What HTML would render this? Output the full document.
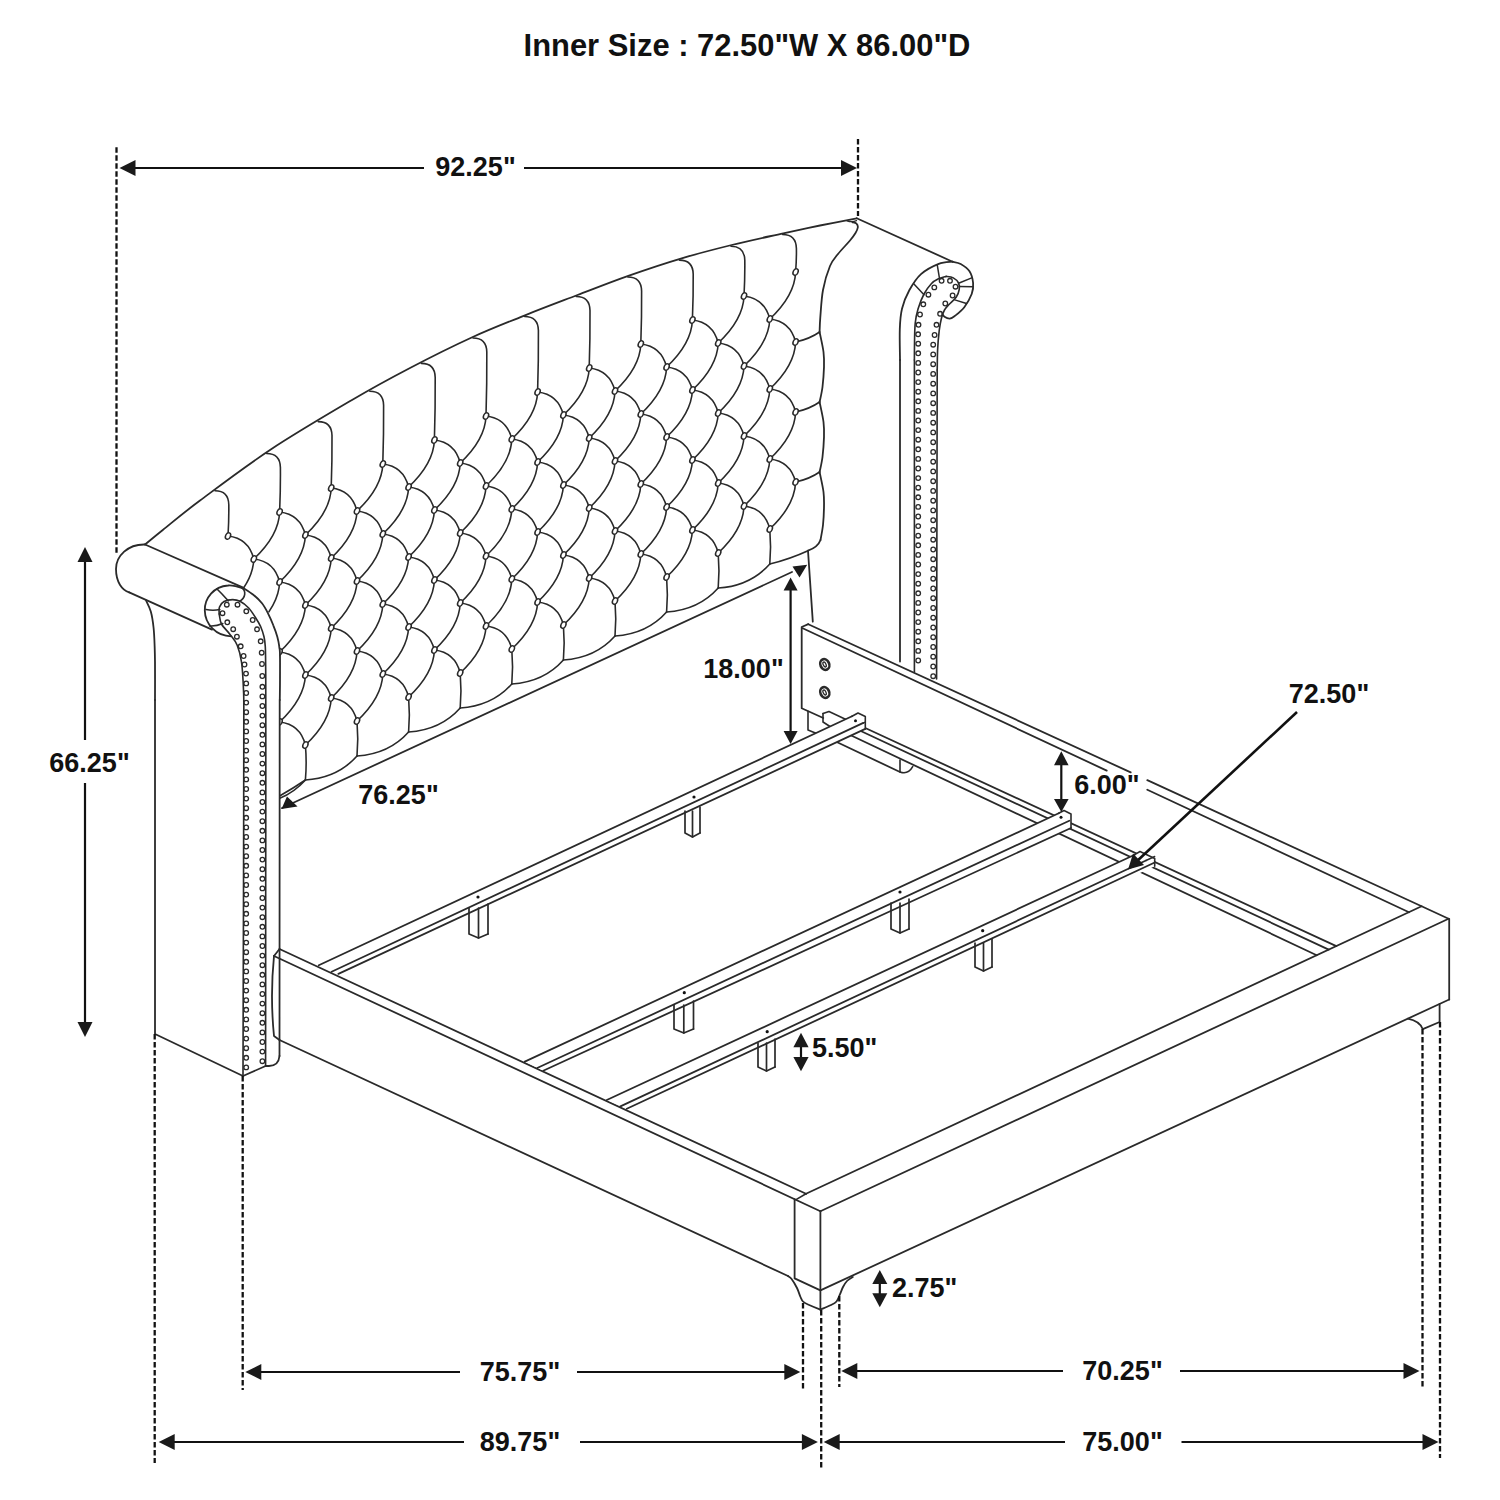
<!DOCTYPE html>
<html><head><meta charset="utf-8"><style>
html,body{margin:0;padding:0;background:#fff;width:1500px;height:1500px;overflow:hidden}
svg{display:block}
text{font-family:"Liberation Sans",sans-serif;font-weight:bold}
</style></head><body>
<svg width="1500" height="1500" viewBox="0 0 1500 1500">
<defs><clipPath id="tc"><path d="M145.0,544.5 C148.0,542.1 153.6,537.3 162.8,530.0 C172.0,522.7 182.1,513.8 200.0,500.5 C217.9,487.2 244.7,466.8 270.0,450.0 C295.3,433.2 328.7,413.7 352.0,400.0 C375.3,386.3 390.1,378.4 410.0,368.0 C429.9,357.6 452.5,346.3 471.7,337.5 C490.9,328.7 507.4,322.4 525.0,315.3 C542.6,308.2 560.3,301.6 577.5,295.0 C594.7,288.4 610.9,281.9 628.3,275.8 C645.7,269.7 664.5,263.4 681.7,258.3 C698.9,253.2 714.8,249.2 731.7,245.0 C748.6,240.8 768.6,236.6 783.3,233.3 C798.0,230.1 807.8,228.0 820.0,225.5 C832.2,223.0 850.6,219.5 856.7,218.3 L857.8,227.5 L855.5,233 L850,240.5 L838,254 L830,266 L823,290 L820.3,317.3 L821,400 L821,470 L822,540 L822,560 L280,812 L280,662 L278.7,646 L276.5,633 L272,620 L267,609 L260,600.8 L252,593.5 L243.2,588 Z"/></clipPath></defs>
<rect width="1500" height="1500" fill="#fff"/>
<g fill="none" stroke="#2a2a2a" stroke-linecap="round" stroke-linejoin="round">
<g clip-path="url(#tc)">
<path d="M228.0,536.0 Q248.6,538.3 253.8,559.0" stroke-width="1.6" />
<path d="M228.0,606.0 Q248.6,608.3 253.8,629.0" stroke-width="1.6" />
<path d="M228.0,606.0 Q253.0,582.5 253.8,559.0" stroke-width="1.6" />
<path d="M228.0,676.0 Q248.6,678.3 253.8,699.0" stroke-width="1.6" />
<path d="M228.0,676.0 Q253.0,652.5 253.8,629.0" stroke-width="1.6" />
<path d="M228.0,746.0 Q248.6,748.3 253.8,769.0" stroke-width="1.6" />
<path d="M228.0,746.0 Q253.0,722.5 253.8,699.0" stroke-width="1.6" />
<path d="M253.8,559.0 Q274.4,561.3 279.6,582.0" stroke-width="1.6" />
<path d="M253.8,559.0 Q278.8,535.5 279.6,512.0" stroke-width="1.6" />
<path d="M253.8,629.0 Q274.4,631.3 279.6,652.0" stroke-width="1.6" />
<path d="M253.8,629.0 Q278.8,605.5 279.6,582.0" stroke-width="1.6" />
<path d="M253.8,699.0 Q274.4,701.3 279.6,722.0" stroke-width="1.6" />
<path d="M253.8,699.0 Q278.8,675.5 279.6,652.0" stroke-width="1.6" />
<path d="M253.8,769.0 Q278.8,745.5 279.6,722.0" stroke-width="1.6" />
<path d="M279.6,512.0 Q300.2,514.3 305.4,535.0" stroke-width="1.6" />
<path d="M279.6,582.0 Q300.2,584.3 305.4,605.0" stroke-width="1.6" />
<path d="M279.6,582.0 Q304.6,558.5 305.4,535.0" stroke-width="1.6" />
<path d="M279.6,652.0 Q300.2,654.3 305.4,675.0" stroke-width="1.6" />
<path d="M279.6,652.0 Q304.6,628.5 305.4,605.0" stroke-width="1.6" />
<path d="M279.6,722.0 Q300.2,724.3 305.4,745.0" stroke-width="1.6" />
<path d="M279.6,722.0 Q304.6,698.5 305.4,675.0" stroke-width="1.6" />
<path d="M305.4,535.0 Q326.0,537.3 331.2,558.0" stroke-width="1.6" />
<path d="M305.4,535.0 Q330.4,511.5 331.2,488.0" stroke-width="1.6" />
<path d="M305.4,605.0 Q326.0,607.3 331.2,628.0" stroke-width="1.6" />
<path d="M305.4,605.0 Q330.4,581.5 331.2,558.0" stroke-width="1.6" />
<path d="M305.4,675.0 Q326.0,677.3 331.2,698.0" stroke-width="1.6" />
<path d="M305.4,675.0 Q330.4,651.5 331.2,628.0" stroke-width="1.6" />
<path d="M305.4,745.0 Q330.4,721.5 331.2,698.0" stroke-width="1.6" />
<path d="M331.2,488.0 Q351.8,490.3 357.0,511.0" stroke-width="1.6" />
<path d="M331.2,558.0 Q351.8,560.3 357.0,581.0" stroke-width="1.6" />
<path d="M331.2,558.0 Q356.2,534.5 357.0,511.0" stroke-width="1.6" />
<path d="M331.2,628.0 Q351.8,630.3 357.0,651.0" stroke-width="1.6" />
<path d="M331.2,628.0 Q356.2,604.5 357.0,581.0" stroke-width="1.6" />
<path d="M331.2,698.0 Q351.8,700.3 357.0,721.0" stroke-width="1.6" />
<path d="M331.2,698.0 Q356.2,674.5 357.0,651.0" stroke-width="1.6" />
<path d="M357.0,511.0 Q377.6,513.3 382.8,534.0" stroke-width="1.6" />
<path d="M357.0,511.0 Q382.0,487.5 382.8,464.0" stroke-width="1.6" />
<path d="M357.0,581.0 Q377.6,583.3 382.8,604.0" stroke-width="1.6" />
<path d="M357.0,581.0 Q382.0,557.5 382.8,534.0" stroke-width="1.6" />
<path d="M357.0,651.0 Q377.6,653.3 382.8,674.0" stroke-width="1.6" />
<path d="M357.0,651.0 Q382.0,627.5 382.8,604.0" stroke-width="1.6" />
<path d="M357.0,721.0 Q382.0,697.5 382.8,674.0" stroke-width="1.6" />
<path d="M382.8,464.0 Q403.4,466.3 408.6,487.0" stroke-width="1.6" />
<path d="M382.8,534.0 Q403.4,536.3 408.6,557.0" stroke-width="1.6" />
<path d="M382.8,534.0 Q407.8,510.5 408.6,487.0" stroke-width="1.6" />
<path d="M382.8,604.0 Q403.4,606.3 408.6,627.0" stroke-width="1.6" />
<path d="M382.8,604.0 Q407.8,580.5 408.6,557.0" stroke-width="1.6" />
<path d="M382.8,674.0 Q403.4,676.3 408.6,697.0" stroke-width="1.6" />
<path d="M382.8,674.0 Q407.8,650.5 408.6,627.0" stroke-width="1.6" />
<path d="M408.6,487.0 Q429.2,489.3 434.4,510.0" stroke-width="1.6" />
<path d="M408.6,487.0 Q433.6,463.5 434.4,440.0" stroke-width="1.6" />
<path d="M408.6,557.0 Q429.2,559.3 434.4,580.0" stroke-width="1.6" />
<path d="M408.6,557.0 Q433.6,533.5 434.4,510.0" stroke-width="1.6" />
<path d="M408.6,627.0 Q429.2,629.3 434.4,650.0" stroke-width="1.6" />
<path d="M408.6,627.0 Q433.6,603.5 434.4,580.0" stroke-width="1.6" />
<path d="M408.6,697.0 Q433.6,673.5 434.4,650.0" stroke-width="1.6" />
<path d="M434.4,440.0 Q455.0,442.3 460.2,463.0" stroke-width="1.6" />
<path d="M434.4,510.0 Q455.0,512.3 460.2,533.0" stroke-width="1.6" />
<path d="M434.4,510.0 Q459.4,486.5 460.2,463.0" stroke-width="1.6" />
<path d="M434.4,580.0 Q455.0,582.3 460.2,603.0" stroke-width="1.6" />
<path d="M434.4,580.0 Q459.4,556.5 460.2,533.0" stroke-width="1.6" />
<path d="M434.4,650.0 Q455.0,652.3 460.2,673.0" stroke-width="1.6" />
<path d="M434.4,650.0 Q459.4,626.5 460.2,603.0" stroke-width="1.6" />
<path d="M460.2,463.0 Q480.8,465.3 486.0,486.0" stroke-width="1.6" />
<path d="M460.2,463.0 Q485.2,439.5 486.0,416.0" stroke-width="1.6" />
<path d="M460.2,533.0 Q480.8,535.3 486.0,556.0" stroke-width="1.6" />
<path d="M460.2,533.0 Q485.2,509.5 486.0,486.0" stroke-width="1.6" />
<path d="M460.2,603.0 Q480.8,605.3 486.0,626.0" stroke-width="1.6" />
<path d="M460.2,603.0 Q485.2,579.5 486.0,556.0" stroke-width="1.6" />
<path d="M460.2,673.0 Q485.2,649.5 486.0,626.0" stroke-width="1.6" />
<path d="M486.0,416.0 Q506.6,418.3 511.8,439.0" stroke-width="1.6" />
<path d="M486.0,486.0 Q506.6,488.3 511.8,509.0" stroke-width="1.6" />
<path d="M486.0,486.0 Q511.0,462.5 511.8,439.0" stroke-width="1.6" />
<path d="M486.0,556.0 Q506.6,558.3 511.8,579.0" stroke-width="1.6" />
<path d="M486.0,556.0 Q511.0,532.5 511.8,509.0" stroke-width="1.6" />
<path d="M486.0,626.0 Q506.6,628.3 511.8,649.0" stroke-width="1.6" />
<path d="M486.0,626.0 Q511.0,602.5 511.8,579.0" stroke-width="1.6" />
<path d="M511.8,439.0 Q532.4,441.3 537.6,462.0" stroke-width="1.6" />
<path d="M511.8,439.0 Q536.8,415.5 537.6,392.0" stroke-width="1.6" />
<path d="M511.8,509.0 Q532.4,511.3 537.6,532.0" stroke-width="1.6" />
<path d="M511.8,509.0 Q536.8,485.5 537.6,462.0" stroke-width="1.6" />
<path d="M511.8,579.0 Q532.4,581.3 537.6,602.0" stroke-width="1.6" />
<path d="M511.8,579.0 Q536.8,555.5 537.6,532.0" stroke-width="1.6" />
<path d="M511.8,649.0 Q536.8,625.5 537.6,602.0" stroke-width="1.6" />
<path d="M537.6,392.0 Q558.2,394.3 563.4,415.0" stroke-width="1.6" />
<path d="M537.6,462.0 Q558.2,464.3 563.4,485.0" stroke-width="1.6" />
<path d="M537.6,462.0 Q562.6,438.5 563.4,415.0" stroke-width="1.6" />
<path d="M537.6,532.0 Q558.2,534.3 563.4,555.0" stroke-width="1.6" />
<path d="M537.6,532.0 Q562.6,508.5 563.4,485.0" stroke-width="1.6" />
<path d="M537.6,602.0 Q558.2,604.3 563.4,625.0" stroke-width="1.6" />
<path d="M537.6,602.0 Q562.6,578.5 563.4,555.0" stroke-width="1.6" />
<path d="M563.4,415.0 Q584.0,417.3 589.2,438.0" stroke-width="1.6" />
<path d="M563.4,415.0 Q588.4,391.5 589.2,368.0" stroke-width="1.6" />
<path d="M563.4,485.0 Q584.0,487.3 589.2,508.0" stroke-width="1.6" />
<path d="M563.4,485.0 Q588.4,461.5 589.2,438.0" stroke-width="1.6" />
<path d="M563.4,555.0 Q584.0,557.3 589.2,578.0" stroke-width="1.6" />
<path d="M563.4,555.0 Q588.4,531.5 589.2,508.0" stroke-width="1.6" />
<path d="M563.4,625.0 Q588.4,601.5 589.2,578.0" stroke-width="1.6" />
<path d="M589.2,368.0 Q609.8,370.3 615.0,391.0" stroke-width="1.6" />
<path d="M589.2,438.0 Q609.8,440.3 615.0,461.0" stroke-width="1.6" />
<path d="M589.2,438.0 Q614.2,414.5 615.0,391.0" stroke-width="1.6" />
<path d="M589.2,508.0 Q609.8,510.3 615.0,531.0" stroke-width="1.6" />
<path d="M589.2,508.0 Q614.2,484.5 615.0,461.0" stroke-width="1.6" />
<path d="M589.2,578.0 Q609.8,580.3 615.0,601.0" stroke-width="1.6" />
<path d="M589.2,578.0 Q614.2,554.5 615.0,531.0" stroke-width="1.6" />
<path d="M615.0,391.0 Q635.6,393.3 640.8,414.0" stroke-width="1.6" />
<path d="M615.0,391.0 Q640.0,367.5 640.8,344.0" stroke-width="1.6" />
<path d="M615.0,461.0 Q635.6,463.3 640.8,484.0" stroke-width="1.6" />
<path d="M615.0,461.0 Q640.0,437.5 640.8,414.0" stroke-width="1.6" />
<path d="M615.0,531.0 Q635.6,533.3 640.8,554.0" stroke-width="1.6" />
<path d="M615.0,531.0 Q640.0,507.5 640.8,484.0" stroke-width="1.6" />
<path d="M615.0,601.0 Q640.0,577.5 640.8,554.0" stroke-width="1.6" />
<path d="M640.8,344.0 Q661.4,346.3 666.6,367.0" stroke-width="1.6" />
<path d="M640.8,414.0 Q661.4,416.3 666.6,437.0" stroke-width="1.6" />
<path d="M640.8,414.0 Q665.8,390.5 666.6,367.0" stroke-width="1.6" />
<path d="M640.8,484.0 Q661.4,486.3 666.6,507.0" stroke-width="1.6" />
<path d="M640.8,484.0 Q665.8,460.5 666.6,437.0" stroke-width="1.6" />
<path d="M640.8,554.0 Q661.4,556.3 666.6,577.0" stroke-width="1.6" />
<path d="M640.8,554.0 Q665.8,530.5 666.6,507.0" stroke-width="1.6" />
<path d="M666.6,367.0 Q687.2,369.3 692.4,390.0" stroke-width="1.6" />
<path d="M666.6,367.0 Q691.6,343.5 692.4,320.0" stroke-width="1.6" />
<path d="M666.6,437.0 Q687.2,439.3 692.4,460.0" stroke-width="1.6" />
<path d="M666.6,437.0 Q691.6,413.5 692.4,390.0" stroke-width="1.6" />
<path d="M666.6,507.0 Q687.2,509.3 692.4,530.0" stroke-width="1.6" />
<path d="M666.6,507.0 Q691.6,483.5 692.4,460.0" stroke-width="1.6" />
<path d="M666.6,577.0 Q691.6,553.5 692.4,530.0" stroke-width="1.6" />
<path d="M692.4,320.0 Q713.0,322.3 718.2,343.0" stroke-width="1.6" />
<path d="M692.4,390.0 Q713.0,392.3 718.2,413.0" stroke-width="1.6" />
<path d="M692.4,390.0 Q717.4,366.5 718.2,343.0" stroke-width="1.6" />
<path d="M692.4,460.0 Q713.0,462.3 718.2,483.0" stroke-width="1.6" />
<path d="M692.4,460.0 Q717.4,436.5 718.2,413.0" stroke-width="1.6" />
<path d="M692.4,530.0 Q713.0,532.3 718.2,553.0" stroke-width="1.6" />
<path d="M692.4,530.0 Q717.4,506.5 718.2,483.0" stroke-width="1.6" />
<path d="M718.2,343.0 Q738.8,345.3 744.0,366.0" stroke-width="1.6" />
<path d="M718.2,343.0 Q743.2,319.5 744.0,296.0" stroke-width="1.6" />
<path d="M718.2,413.0 Q738.8,415.3 744.0,436.0" stroke-width="1.6" />
<path d="M718.2,413.0 Q743.2,389.5 744.0,366.0" stroke-width="1.6" />
<path d="M718.2,483.0 Q738.8,485.3 744.0,506.0" stroke-width="1.6" />
<path d="M718.2,483.0 Q743.2,459.5 744.0,436.0" stroke-width="1.6" />
<path d="M718.2,553.0 Q743.2,529.5 744.0,506.0" stroke-width="1.6" />
<path d="M744.0,296.0 Q764.6,298.3 769.8,319.0" stroke-width="1.6" />
<path d="M744.0,366.0 Q764.6,368.3 769.8,389.0" stroke-width="1.6" />
<path d="M744.0,366.0 Q769.0,342.5 769.8,319.0" stroke-width="1.6" />
<path d="M744.0,436.0 Q764.6,438.3 769.8,459.0" stroke-width="1.6" />
<path d="M744.0,436.0 Q769.0,412.5 769.8,389.0" stroke-width="1.6" />
<path d="M744.0,506.0 Q764.6,508.3 769.8,529.0" stroke-width="1.6" />
<path d="M744.0,506.0 Q769.0,482.5 769.8,459.0" stroke-width="1.6" />
<path d="M769.8,319.0 Q790.4,321.3 795.6,342.0" stroke-width="1.6" />
<path d="M769.8,319.0 Q794.8,295.5 795.6,272.0" stroke-width="1.6" />
<path d="M769.8,389.0 Q790.4,391.3 795.6,412.0" stroke-width="1.6" />
<path d="M769.8,389.0 Q794.8,365.5 795.6,342.0" stroke-width="1.6" />
<path d="M769.8,459.0 Q790.4,461.3 795.6,482.0" stroke-width="1.6" />
<path d="M769.8,459.0 Q794.8,435.5 795.6,412.0" stroke-width="1.6" />
<path d="M769.8,529.0 Q794.8,505.5 795.6,482.0" stroke-width="1.6" />
<path d="M253.8,769.0 Q255.3,787.0 253.8,804.0" stroke-width="1.6" />
<path d="M253.8,804.0 Q285.8,802.0 305.4,780.0" stroke-width="1.6" />
<path d="M305.4,745.0 Q306.9,763.0 305.4,780.0" stroke-width="1.6" />
<path d="M305.4,780.0 Q337.4,778.0 357.0,756.0" stroke-width="1.6" />
<path d="M357.0,721.0 Q358.5,739.0 357.0,756.0" stroke-width="1.6" />
<path d="M357.0,756.0 Q389.0,754.0 408.6,732.0" stroke-width="1.6" />
<path d="M408.6,697.0 Q410.1,715.0 408.6,732.0" stroke-width="1.6" />
<path d="M408.6,732.0 Q440.6,730.0 460.2,708.0" stroke-width="1.6" />
<path d="M460.2,673.0 Q461.7,691.0 460.2,708.0" stroke-width="1.6" />
<path d="M460.2,708.0 Q492.2,706.0 511.8,684.0" stroke-width="1.6" />
<path d="M511.8,649.0 Q513.3,667.0 511.8,684.0" stroke-width="1.6" />
<path d="M511.8,684.0 Q543.8,682.0 563.4,660.0" stroke-width="1.6" />
<path d="M563.4,625.0 Q564.9,643.0 563.4,660.0" stroke-width="1.6" />
<path d="M563.4,660.0 Q595.4,658.0 615.0,636.0" stroke-width="1.6" />
<path d="M615.0,601.0 Q616.5,619.0 615.0,636.0" stroke-width="1.6" />
<path d="M615.0,636.0 Q647.0,634.0 666.6,612.0" stroke-width="1.6" />
<path d="M666.6,577.0 Q668.1,595.0 666.6,612.0" stroke-width="1.6" />
<path d="M666.6,612.0 Q698.6,610.0 718.2,588.0" stroke-width="1.6" />
<path d="M718.2,553.0 Q719.7,571.0 718.2,588.0" stroke-width="1.6" />
<path d="M718.2,588.0 Q750.2,586.0 769.8,564.0" stroke-width="1.6" />
<path d="M769.8,529.0 Q771.3,547.0 769.8,564.0" stroke-width="1.6" />
<path d="M279.6,796.0 Q292.0,789.0 305.4,780.0" stroke-width="1.6" />
<path d="M215.0,490.7 Q228.5,490.7 228.8,504.7 Q229.0,519.3 228.0,536.0" stroke-width="1.6" />
<path d="M266.6,453.5 Q280.1,453.5 280.4,467.5 Q280.6,488.7 279.6,512.0" stroke-width="1.6" />
<path d="M318.2,421.6 Q331.7,421.6 332.0,435.6 Q332.2,460.8 331.2,488.0" stroke-width="1.6" />
<path d="M369.8,391.2 Q383.3,391.2 383.6,405.2 Q383.8,433.6 382.8,464.0" stroke-width="1.6" />
<path d="M421.4,363.4 Q434.9,363.4 435.2,377.4 Q435.4,407.7 434.4,440.0" stroke-width="1.6" />
<path d="M473.0,338.0 Q486.5,338.0 486.8,352.0 Q487.0,383.0 486.0,416.0" stroke-width="1.6" />
<path d="M524.6,316.5 Q538.1,316.5 538.4,330.5 Q538.6,360.2 537.6,392.0" stroke-width="1.6" />
<path d="M576.2,296.5 Q589.7,296.5 590.0,310.5 Q590.2,338.3 589.2,368.0" stroke-width="1.6" />
<path d="M627.8,277.0 Q641.3,277.0 641.6,291.0 Q641.8,316.5 640.8,344.0" stroke-width="1.6" />
<path d="M679.4,260.1 Q692.9,260.1 693.2,274.1 Q693.4,296.0 692.4,320.0" stroke-width="1.6" />
<path d="M731.0,246.2 Q744.5,246.2 744.8,260.2 Q745.0,277.1 744.0,296.0" stroke-width="1.6" />
<path d="M782.6,234.5 Q796.1,234.5 796.4,248.5 Q796.6,259.2 795.6,272.0" stroke-width="1.6" />
<path d="M795.6,342.0 Q809.6,339.0 819.6,332.0" stroke-width="1.6" />
<path d="M795.6,412.0 Q809.6,409.0 819.6,402.0" stroke-width="1.6" />
<path d="M795.6,482.0 Q809.6,479.0 819.6,472.0" stroke-width="1.6" />
<ellipse cx="228.0" cy="536.0" rx="2.4" ry="3.4" transform="rotate(25 228.0 536.0)" stroke-width="1.5" fill="#fff"/>
<ellipse cx="228.0" cy="606.0" rx="2.4" ry="3.4" transform="rotate(25 228.0 606.0)" stroke-width="1.5" fill="#fff"/>
<ellipse cx="228.0" cy="676.0" rx="2.4" ry="3.4" transform="rotate(25 228.0 676.0)" stroke-width="1.5" fill="#fff"/>
<ellipse cx="228.0" cy="746.0" rx="2.4" ry="3.4" transform="rotate(25 228.0 746.0)" stroke-width="1.5" fill="#fff"/>
<ellipse cx="253.8" cy="559.0" rx="2.4" ry="3.4" transform="rotate(25 253.8 559.0)" stroke-width="1.5" fill="#fff"/>
<ellipse cx="253.8" cy="629.0" rx="2.4" ry="3.4" transform="rotate(25 253.8 629.0)" stroke-width="1.5" fill="#fff"/>
<ellipse cx="253.8" cy="699.0" rx="2.4" ry="3.4" transform="rotate(25 253.8 699.0)" stroke-width="1.5" fill="#fff"/>
<ellipse cx="253.8" cy="769.0" rx="2.4" ry="3.4" transform="rotate(25 253.8 769.0)" stroke-width="1.5" fill="#fff"/>
<ellipse cx="279.6" cy="512.0" rx="2.4" ry="3.4" transform="rotate(25 279.6 512.0)" stroke-width="1.5" fill="#fff"/>
<ellipse cx="279.6" cy="582.0" rx="2.4" ry="3.4" transform="rotate(25 279.6 582.0)" stroke-width="1.5" fill="#fff"/>
<ellipse cx="279.6" cy="652.0" rx="2.4" ry="3.4" transform="rotate(25 279.6 652.0)" stroke-width="1.5" fill="#fff"/>
<ellipse cx="279.6" cy="722.0" rx="2.4" ry="3.4" transform="rotate(25 279.6 722.0)" stroke-width="1.5" fill="#fff"/>
<ellipse cx="305.4" cy="535.0" rx="2.4" ry="3.4" transform="rotate(25 305.4 535.0)" stroke-width="1.5" fill="#fff"/>
<ellipse cx="305.4" cy="605.0" rx="2.4" ry="3.4" transform="rotate(25 305.4 605.0)" stroke-width="1.5" fill="#fff"/>
<ellipse cx="305.4" cy="675.0" rx="2.4" ry="3.4" transform="rotate(25 305.4 675.0)" stroke-width="1.5" fill="#fff"/>
<ellipse cx="305.4" cy="745.0" rx="2.4" ry="3.4" transform="rotate(25 305.4 745.0)" stroke-width="1.5" fill="#fff"/>
<ellipse cx="331.2" cy="488.0" rx="2.4" ry="3.4" transform="rotate(25 331.2 488.0)" stroke-width="1.5" fill="#fff"/>
<ellipse cx="331.2" cy="558.0" rx="2.4" ry="3.4" transform="rotate(25 331.2 558.0)" stroke-width="1.5" fill="#fff"/>
<ellipse cx="331.2" cy="628.0" rx="2.4" ry="3.4" transform="rotate(25 331.2 628.0)" stroke-width="1.5" fill="#fff"/>
<ellipse cx="331.2" cy="698.0" rx="2.4" ry="3.4" transform="rotate(25 331.2 698.0)" stroke-width="1.5" fill="#fff"/>
<ellipse cx="357.0" cy="511.0" rx="2.4" ry="3.4" transform="rotate(25 357.0 511.0)" stroke-width="1.5" fill="#fff"/>
<ellipse cx="357.0" cy="581.0" rx="2.4" ry="3.4" transform="rotate(25 357.0 581.0)" stroke-width="1.5" fill="#fff"/>
<ellipse cx="357.0" cy="651.0" rx="2.4" ry="3.4" transform="rotate(25 357.0 651.0)" stroke-width="1.5" fill="#fff"/>
<ellipse cx="357.0" cy="721.0" rx="2.4" ry="3.4" transform="rotate(25 357.0 721.0)" stroke-width="1.5" fill="#fff"/>
<ellipse cx="382.8" cy="464.0" rx="2.4" ry="3.4" transform="rotate(25 382.8 464.0)" stroke-width="1.5" fill="#fff"/>
<ellipse cx="382.8" cy="534.0" rx="2.4" ry="3.4" transform="rotate(25 382.8 534.0)" stroke-width="1.5" fill="#fff"/>
<ellipse cx="382.8" cy="604.0" rx="2.4" ry="3.4" transform="rotate(25 382.8 604.0)" stroke-width="1.5" fill="#fff"/>
<ellipse cx="382.8" cy="674.0" rx="2.4" ry="3.4" transform="rotate(25 382.8 674.0)" stroke-width="1.5" fill="#fff"/>
<ellipse cx="408.6" cy="487.0" rx="2.4" ry="3.4" transform="rotate(25 408.6 487.0)" stroke-width="1.5" fill="#fff"/>
<ellipse cx="408.6" cy="557.0" rx="2.4" ry="3.4" transform="rotate(25 408.6 557.0)" stroke-width="1.5" fill="#fff"/>
<ellipse cx="408.6" cy="627.0" rx="2.4" ry="3.4" transform="rotate(25 408.6 627.0)" stroke-width="1.5" fill="#fff"/>
<ellipse cx="408.6" cy="697.0" rx="2.4" ry="3.4" transform="rotate(25 408.6 697.0)" stroke-width="1.5" fill="#fff"/>
<ellipse cx="434.4" cy="440.0" rx="2.4" ry="3.4" transform="rotate(25 434.4 440.0)" stroke-width="1.5" fill="#fff"/>
<ellipse cx="434.4" cy="510.0" rx="2.4" ry="3.4" transform="rotate(25 434.4 510.0)" stroke-width="1.5" fill="#fff"/>
<ellipse cx="434.4" cy="580.0" rx="2.4" ry="3.4" transform="rotate(25 434.4 580.0)" stroke-width="1.5" fill="#fff"/>
<ellipse cx="434.4" cy="650.0" rx="2.4" ry="3.4" transform="rotate(25 434.4 650.0)" stroke-width="1.5" fill="#fff"/>
<ellipse cx="460.2" cy="463.0" rx="2.4" ry="3.4" transform="rotate(25 460.2 463.0)" stroke-width="1.5" fill="#fff"/>
<ellipse cx="460.2" cy="533.0" rx="2.4" ry="3.4" transform="rotate(25 460.2 533.0)" stroke-width="1.5" fill="#fff"/>
<ellipse cx="460.2" cy="603.0" rx="2.4" ry="3.4" transform="rotate(25 460.2 603.0)" stroke-width="1.5" fill="#fff"/>
<ellipse cx="460.2" cy="673.0" rx="2.4" ry="3.4" transform="rotate(25 460.2 673.0)" stroke-width="1.5" fill="#fff"/>
<ellipse cx="486.0" cy="416.0" rx="2.4" ry="3.4" transform="rotate(25 486.0 416.0)" stroke-width="1.5" fill="#fff"/>
<ellipse cx="486.0" cy="486.0" rx="2.4" ry="3.4" transform="rotate(25 486.0 486.0)" stroke-width="1.5" fill="#fff"/>
<ellipse cx="486.0" cy="556.0" rx="2.4" ry="3.4" transform="rotate(25 486.0 556.0)" stroke-width="1.5" fill="#fff"/>
<ellipse cx="486.0" cy="626.0" rx="2.4" ry="3.4" transform="rotate(25 486.0 626.0)" stroke-width="1.5" fill="#fff"/>
<ellipse cx="511.8" cy="439.0" rx="2.4" ry="3.4" transform="rotate(25 511.8 439.0)" stroke-width="1.5" fill="#fff"/>
<ellipse cx="511.8" cy="509.0" rx="2.4" ry="3.4" transform="rotate(25 511.8 509.0)" stroke-width="1.5" fill="#fff"/>
<ellipse cx="511.8" cy="579.0" rx="2.4" ry="3.4" transform="rotate(25 511.8 579.0)" stroke-width="1.5" fill="#fff"/>
<ellipse cx="511.8" cy="649.0" rx="2.4" ry="3.4" transform="rotate(25 511.8 649.0)" stroke-width="1.5" fill="#fff"/>
<ellipse cx="537.6" cy="392.0" rx="2.4" ry="3.4" transform="rotate(25 537.6 392.0)" stroke-width="1.5" fill="#fff"/>
<ellipse cx="537.6" cy="462.0" rx="2.4" ry="3.4" transform="rotate(25 537.6 462.0)" stroke-width="1.5" fill="#fff"/>
<ellipse cx="537.6" cy="532.0" rx="2.4" ry="3.4" transform="rotate(25 537.6 532.0)" stroke-width="1.5" fill="#fff"/>
<ellipse cx="537.6" cy="602.0" rx="2.4" ry="3.4" transform="rotate(25 537.6 602.0)" stroke-width="1.5" fill="#fff"/>
<ellipse cx="563.4" cy="415.0" rx="2.4" ry="3.4" transform="rotate(25 563.4 415.0)" stroke-width="1.5" fill="#fff"/>
<ellipse cx="563.4" cy="485.0" rx="2.4" ry="3.4" transform="rotate(25 563.4 485.0)" stroke-width="1.5" fill="#fff"/>
<ellipse cx="563.4" cy="555.0" rx="2.4" ry="3.4" transform="rotate(25 563.4 555.0)" stroke-width="1.5" fill="#fff"/>
<ellipse cx="563.4" cy="625.0" rx="2.4" ry="3.4" transform="rotate(25 563.4 625.0)" stroke-width="1.5" fill="#fff"/>
<ellipse cx="589.2" cy="368.0" rx="2.4" ry="3.4" transform="rotate(25 589.2 368.0)" stroke-width="1.5" fill="#fff"/>
<ellipse cx="589.2" cy="438.0" rx="2.4" ry="3.4" transform="rotate(25 589.2 438.0)" stroke-width="1.5" fill="#fff"/>
<ellipse cx="589.2" cy="508.0" rx="2.4" ry="3.4" transform="rotate(25 589.2 508.0)" stroke-width="1.5" fill="#fff"/>
<ellipse cx="589.2" cy="578.0" rx="2.4" ry="3.4" transform="rotate(25 589.2 578.0)" stroke-width="1.5" fill="#fff"/>
<ellipse cx="615.0" cy="391.0" rx="2.4" ry="3.4" transform="rotate(25 615.0 391.0)" stroke-width="1.5" fill="#fff"/>
<ellipse cx="615.0" cy="461.0" rx="2.4" ry="3.4" transform="rotate(25 615.0 461.0)" stroke-width="1.5" fill="#fff"/>
<ellipse cx="615.0" cy="531.0" rx="2.4" ry="3.4" transform="rotate(25 615.0 531.0)" stroke-width="1.5" fill="#fff"/>
<ellipse cx="615.0" cy="601.0" rx="2.4" ry="3.4" transform="rotate(25 615.0 601.0)" stroke-width="1.5" fill="#fff"/>
<ellipse cx="640.8" cy="344.0" rx="2.4" ry="3.4" transform="rotate(25 640.8 344.0)" stroke-width="1.5" fill="#fff"/>
<ellipse cx="640.8" cy="414.0" rx="2.4" ry="3.4" transform="rotate(25 640.8 414.0)" stroke-width="1.5" fill="#fff"/>
<ellipse cx="640.8" cy="484.0" rx="2.4" ry="3.4" transform="rotate(25 640.8 484.0)" stroke-width="1.5" fill="#fff"/>
<ellipse cx="640.8" cy="554.0" rx="2.4" ry="3.4" transform="rotate(25 640.8 554.0)" stroke-width="1.5" fill="#fff"/>
<ellipse cx="666.6" cy="367.0" rx="2.4" ry="3.4" transform="rotate(25 666.6 367.0)" stroke-width="1.5" fill="#fff"/>
<ellipse cx="666.6" cy="437.0" rx="2.4" ry="3.4" transform="rotate(25 666.6 437.0)" stroke-width="1.5" fill="#fff"/>
<ellipse cx="666.6" cy="507.0" rx="2.4" ry="3.4" transform="rotate(25 666.6 507.0)" stroke-width="1.5" fill="#fff"/>
<ellipse cx="666.6" cy="577.0" rx="2.4" ry="3.4" transform="rotate(25 666.6 577.0)" stroke-width="1.5" fill="#fff"/>
<ellipse cx="692.4" cy="320.0" rx="2.4" ry="3.4" transform="rotate(25 692.4 320.0)" stroke-width="1.5" fill="#fff"/>
<ellipse cx="692.4" cy="390.0" rx="2.4" ry="3.4" transform="rotate(25 692.4 390.0)" stroke-width="1.5" fill="#fff"/>
<ellipse cx="692.4" cy="460.0" rx="2.4" ry="3.4" transform="rotate(25 692.4 460.0)" stroke-width="1.5" fill="#fff"/>
<ellipse cx="692.4" cy="530.0" rx="2.4" ry="3.4" transform="rotate(25 692.4 530.0)" stroke-width="1.5" fill="#fff"/>
<ellipse cx="718.2" cy="343.0" rx="2.4" ry="3.4" transform="rotate(25 718.2 343.0)" stroke-width="1.5" fill="#fff"/>
<ellipse cx="718.2" cy="413.0" rx="2.4" ry="3.4" transform="rotate(25 718.2 413.0)" stroke-width="1.5" fill="#fff"/>
<ellipse cx="718.2" cy="483.0" rx="2.4" ry="3.4" transform="rotate(25 718.2 483.0)" stroke-width="1.5" fill="#fff"/>
<ellipse cx="718.2" cy="553.0" rx="2.4" ry="3.4" transform="rotate(25 718.2 553.0)" stroke-width="1.5" fill="#fff"/>
<ellipse cx="744.0" cy="296.0" rx="2.4" ry="3.4" transform="rotate(25 744.0 296.0)" stroke-width="1.5" fill="#fff"/>
<ellipse cx="744.0" cy="366.0" rx="2.4" ry="3.4" transform="rotate(25 744.0 366.0)" stroke-width="1.5" fill="#fff"/>
<ellipse cx="744.0" cy="436.0" rx="2.4" ry="3.4" transform="rotate(25 744.0 436.0)" stroke-width="1.5" fill="#fff"/>
<ellipse cx="744.0" cy="506.0" rx="2.4" ry="3.4" transform="rotate(25 744.0 506.0)" stroke-width="1.5" fill="#fff"/>
<ellipse cx="769.8" cy="319.0" rx="2.4" ry="3.4" transform="rotate(25 769.8 319.0)" stroke-width="1.5" fill="#fff"/>
<ellipse cx="769.8" cy="389.0" rx="2.4" ry="3.4" transform="rotate(25 769.8 389.0)" stroke-width="1.5" fill="#fff"/>
<ellipse cx="769.8" cy="459.0" rx="2.4" ry="3.4" transform="rotate(25 769.8 459.0)" stroke-width="1.5" fill="#fff"/>
<ellipse cx="769.8" cy="529.0" rx="2.4" ry="3.4" transform="rotate(25 769.8 529.0)" stroke-width="1.5" fill="#fff"/>
<ellipse cx="795.6" cy="272.0" rx="2.4" ry="3.4" transform="rotate(25 795.6 272.0)" stroke-width="1.5" fill="#fff"/>
<ellipse cx="795.6" cy="342.0" rx="2.4" ry="3.4" transform="rotate(25 795.6 342.0)" stroke-width="1.5" fill="#fff"/>
<ellipse cx="795.6" cy="412.0" rx="2.4" ry="3.4" transform="rotate(25 795.6 412.0)" stroke-width="1.5" fill="#fff"/>
<ellipse cx="795.6" cy="482.0" rx="2.4" ry="3.4" transform="rotate(25 795.6 482.0)" stroke-width="1.5" fill="#fff"/>
</g>
<path d="M145.0,544.5 C148.0,542.1 153.6,537.3 162.8,530.0 C172.0,522.7 182.1,513.8 200.0,500.5 C217.9,487.2 244.7,466.8 270.0,450.0 C295.3,433.2 328.7,413.7 352.0,400.0 C375.3,386.3 390.1,378.4 410.0,368.0 C429.9,357.6 452.5,346.3 471.7,337.5 C490.9,328.7 507.4,322.4 525.0,315.3 C542.6,308.2 560.3,301.6 577.5,295.0 C594.7,288.4 610.9,281.9 628.3,275.8 C645.7,269.7 664.5,263.4 681.7,258.3 C698.9,253.2 714.8,249.2 731.7,245.0 C748.6,240.8 768.6,236.6 783.3,233.3 C798.0,230.1 807.8,228.0 820.0,225.5 C832.2,223.0 850.6,219.5 856.7,218.3" stroke-width="1.8" />
<path d="M856.7,218.3 L952.6,261.7" stroke-width="1.8" />
<path d="M847,220.8 Q852,222.6 856.5,220.6" stroke-width="1.3" />
<path d="M852.5,222.3 C853.2,222.5 855.6,222.7 856.5,223.6 C857.4,224.5 858.0,225.9 857.8,227.5 C857.6,229.1 856.8,230.8 855.5,233.0 C854.2,235.2 852.9,237.0 850.0,240.5 C847.1,244.0 841.3,249.8 838.0,254.0 C834.7,258.2 832.5,260.0 830.0,266.0 C827.5,272.0 824.6,281.4 823.0,290.0 C821.4,298.6 820.9,310.3 820.3,317.3 C819.7,324.3 819.7,329.6 819.6,332.0" stroke-width="1.8" />
<path d="M819.6,332.0 C820.2,335.3 822.8,346.2 823.5,352.0 C824.2,357.8 824.2,361.2 824.0,367.0 C823.8,372.8 823.2,381.2 822.5,387.0 C821.8,392.8 820.1,399.5 819.6,402.0" stroke-width="1.8" />
<path d="M819.6,402.0 C820.2,405.3 822.8,416.2 823.5,422.0 C824.2,427.8 824.2,431.2 824.0,437.0 C823.8,442.8 823.2,451.2 822.5,457.0 C821.8,462.8 820.1,469.5 819.6,472.0" stroke-width="1.8" />
<path d="M819.6,472.0 C820.2,475.3 822.8,486.2 823.5,492.0 C824.2,497.8 824.1,501.5 824.0,507.0 C823.9,512.5 823.6,519.5 823.0,525.0 C822.4,530.5 820.9,537.5 820.5,540.0" stroke-width="1.8" />
<path d="M820.5,540 Q818,547 808,550.7 Q790,559 769.8,564" stroke-width="1.8" />
<path d="M145,544.5 C128,544 116,556 116,569 C116,582 122,590 129.2,592.4" stroke-width="1.8" />
<path d="M145.0,544.5 L243.2,587.6" stroke-width="1.8" />
<path d="M129.2,592.4 L212.0,629.6" stroke-width="1.8" />
<path d="M243.2,588.5 C236,586 232,585 228,585.5 C214,586.5 204.5,598 204.8,610.5 C205,624 216,636 231.2,636.3" stroke-width="1.8" />
<path d="M242,588.2 C246,591 246,597.5 239.6,601.4" stroke-width="1.62" />
<path d="M219.2,614.0 C219.2,612.8 218.7,609.1 219.5,607.0 C220.3,604.9 221.8,602.7 224.0,601.5 C226.2,600.3 230.0,599.6 232.7,599.6 C235.4,599.6 237.3,599.9 240.0,601.3 C242.7,602.7 246.1,605.3 248.7,608.0 C251.2,610.7 253.3,614.2 255.3,617.3 C257.3,620.4 259.2,623.5 260.7,626.7 C262.1,629.9 263.2,633.4 264.0,636.7 C264.8,640.0 265.0,641.2 265.3,646.7 C265.6,652.2 265.6,659.5 265.7,670.0 C265.8,680.5 265.8,688.3 265.8,710.0 C265.8,731.7 265.8,768.3 265.8,800.0 C265.8,831.7 265.7,855.7 265.7,900.0 C265.7,944.3 265.6,1038.3 265.6,1066.0" stroke-width="1.62" />
<path d="M219.2,614.0 C219.6,615.7 219.7,620.6 221.5,624.0 C223.3,627.4 227.4,630.9 230.0,634.4 C232.6,637.9 235.3,640.6 237.2,645.2 C239.1,649.8 240.4,654.5 241.5,662.0 C242.6,669.5 243.1,680.3 243.5,690.0 C243.9,699.7 243.8,693.3 243.8,720.0 C243.8,746.7 243.7,803.3 243.6,850.0 C243.5,896.7 243.3,962.3 243.2,1000.0 C243.1,1037.7 243.0,1063.3 243.0,1076.0" stroke-width="1.62" />
<path d="M216.8,588.8 L222.0,594.0 L228.2,600.8" stroke-width="1.6" />
<path d="M206,609.5 Q213,611 219.8,609.5" stroke-width="1.6" />
<path d="M209.6,626 Q216,626.5 222.8,623.6" stroke-width="1.6" />
<path d="M243.3,588.0 C245.0,589.1 250.2,592.2 253.3,594.7 C256.4,597.2 259.6,600.2 262.0,603.3 C264.4,606.4 266.1,609.6 268.0,613.3 C269.9,617.0 271.8,621.4 273.3,625.3 C274.9,629.2 276.3,633.1 277.3,636.7 C278.3,640.3 278.9,643.7 279.3,646.7 C279.8,649.8 279.9,649.5 280.0,655.0 C280.1,660.5 280.0,672.5 280.0,680.0 C280.0,687.5 279.8,696.7 279.8,700.0" stroke-width="1.8" />
<path d="M279.7,700.0 L279.5,1056.0" stroke-width="1.8" />
<path d="M279.5,1056 Q278.5,1066 269,1066 L265.6,1066" stroke-width="1.8" />
<path d="M146.0,600.5 C146.8,602.4 149.5,607.0 150.8,611.6 C152.1,616.2 153.0,622.4 153.6,628.0 C154.2,633.6 154.4,639.3 154.6,645.0 C154.8,650.7 154.9,652.8 155.0,662.0 C155.1,671.2 155.0,693.7 155.0,700.0" stroke-width="1.8" />
<path d="M155.0,700.0 L155.0,1034.0 L243.0,1076.0 L265.6,1066.0" stroke-width="1.8" />
<path d="M952.6,261.7 C950.3,262.1 944.0,261.8 938.7,263.9 C933.4,266.0 925.9,269.8 921.0,274.2 C916.1,278.6 912.5,284.6 909.3,290.3 C906.1,296.1 903.6,302.2 902.0,308.7 C900.4,315.2 900.1,320.6 899.8,329.2 C899.5,337.8 900.0,354.9 900.0,360.0" stroke-width="1.8" />
<path d="M900.0,360.0 L900.0,661.6" stroke-width="1.8" />
<path d="M952.6,261.7 C954.0,262.1 957.9,262.4 960.7,264.0 C963.5,265.6 967.4,268.1 969.5,271.3 C971.6,274.5 972.7,279.2 973.1,283.0 C973.5,286.8 973.2,290.0 971.7,294.0 C970.2,298.0 967.1,303.5 964.3,307.2 C961.5,310.9 957.2,314.1 954.8,316.0 C952.4,317.9 951.4,318.5 949.7,318.6 C948.0,318.7 945.7,317.5 944.5,316.7 C943.3,315.9 942.7,314.3 942.3,313.8" stroke-width="1.8" />
<path d="M946.0,276.4 C947.2,276.6 951.2,276.8 953.3,277.9 C955.4,279.0 957.5,281.1 958.5,283.0 C959.5,284.9 959.6,287.3 959.2,289.6 C958.8,291.9 958.0,294.5 956.3,297.0 C954.6,299.5 951.0,302.3 949.0,304.5 C947.0,306.7 945.8,307.8 944.5,310.0 C943.2,312.2 942.4,314.6 941.5,318.0 C940.6,321.4 939.9,325.4 939.2,330.7 C938.6,336.0 937.9,343.4 937.6,350.0 C937.3,356.6 937.3,366.7 937.2,370.0" stroke-width="1.62" />
<path d="M937.2,370.0 L936.6,679.0" stroke-width="1.62" />
<path d="M946.0,276.4 C944.7,276.8 940.5,277.8 938.0,279.0 C935.5,280.2 933.6,281.2 931.3,283.7 C929.0,286.2 926.2,289.8 924.0,294.0 C921.8,298.2 919.6,303.8 918.1,308.7 C916.6,313.6 915.8,317.2 915.2,323.3 C914.6,329.4 914.6,338.9 914.5,345.0 C914.4,351.1 914.4,357.5 914.4,360.0" stroke-width="1.62" />
<path d="M914.4,360.0 L914.4,672.0" stroke-width="1.62" />
<path d="M937.2,264.7 L939.4,277.9" stroke-width="1.5" />
<path d="M913.7,283.7 L924.0,294.7" stroke-width="1.5" />
<path d="M971.7,277.9 L959.2,283.0" stroke-width="1.5" />
<path d="M973.1,286.7 L959.2,286.5" stroke-width="1.5" />
<path d="M954.8,299.9 L966.5,303.5" stroke-width="1.5" />
<circle cx="226.8" cy="604.7" r="2.3" stroke-width="1.3"/>
<circle cx="222.5" cy="613.2" r="2.3" stroke-width="1.3"/>
<circle cx="227.3" cy="622.3" r="2.3" stroke-width="1.3"/>
<circle cx="233.2" cy="629.2" r="2.3" stroke-width="1.3"/>
<circle cx="236.9" cy="636.7" r="2.3" stroke-width="1.3"/>
<circle cx="240.7" cy="646.3" r="2.3" stroke-width="1.3"/>
<circle cx="243.6" cy="656.0" r="2.3" stroke-width="1.3"/>
<circle cx="244.5" cy="664.5" r="2.3" stroke-width="1.3"/>
<circle cx="246.0" cy="673.6" r="2.3" stroke-width="1.3"/>
<circle cx="246.2" cy="683.4" r="2.3" stroke-width="1.3"/>
<circle cx="246.2" cy="693.0" r="2.3" stroke-width="1.3"/>
<circle cx="246.2" cy="702.6" r="2.3" stroke-width="1.3"/>
<circle cx="246.2" cy="712.2" r="2.3" stroke-width="1.3"/>
<circle cx="246.2" cy="721.8" r="2.3" stroke-width="1.3"/>
<circle cx="246.2" cy="731.4" r="2.3" stroke-width="1.3"/>
<circle cx="246.2" cy="741.0" r="2.3" stroke-width="1.3"/>
<circle cx="246.2" cy="750.6" r="2.3" stroke-width="1.3"/>
<circle cx="246.2" cy="760.2" r="2.3" stroke-width="1.3"/>
<circle cx="246.2" cy="769.8" r="2.3" stroke-width="1.3"/>
<circle cx="246.2" cy="779.4" r="2.3" stroke-width="1.3"/>
<circle cx="246.2" cy="789.0" r="2.3" stroke-width="1.3"/>
<circle cx="246.2" cy="798.6" r="2.3" stroke-width="1.3"/>
<circle cx="246.2" cy="808.2" r="2.3" stroke-width="1.3"/>
<circle cx="246.2" cy="817.8" r="2.3" stroke-width="1.3"/>
<circle cx="246.2" cy="827.4" r="2.3" stroke-width="1.3"/>
<circle cx="246.2" cy="837.0" r="2.3" stroke-width="1.3"/>
<circle cx="246.2" cy="846.6" r="2.3" stroke-width="1.3"/>
<circle cx="246.2" cy="856.2" r="2.3" stroke-width="1.3"/>
<circle cx="246.2" cy="865.8" r="2.3" stroke-width="1.3"/>
<circle cx="246.2" cy="875.4" r="2.3" stroke-width="1.3"/>
<circle cx="246.2" cy="885.0" r="2.3" stroke-width="1.3"/>
<circle cx="246.2" cy="894.6" r="2.3" stroke-width="1.3"/>
<circle cx="246.2" cy="904.2" r="2.3" stroke-width="1.3"/>
<circle cx="246.2" cy="913.8" r="2.3" stroke-width="1.3"/>
<circle cx="246.2" cy="923.4" r="2.3" stroke-width="1.3"/>
<circle cx="246.2" cy="933.0" r="2.3" stroke-width="1.3"/>
<circle cx="246.2" cy="942.6" r="2.3" stroke-width="1.3"/>
<circle cx="246.2" cy="952.2" r="2.3" stroke-width="1.3"/>
<circle cx="246.2" cy="961.8" r="2.3" stroke-width="1.3"/>
<circle cx="246.2" cy="971.4" r="2.3" stroke-width="1.3"/>
<circle cx="246.2" cy="981.0" r="2.3" stroke-width="1.3"/>
<circle cx="246.2" cy="990.6" r="2.3" stroke-width="1.3"/>
<circle cx="246.2" cy="1000.2" r="2.3" stroke-width="1.3"/>
<circle cx="246.2" cy="1009.8" r="2.3" stroke-width="1.3"/>
<circle cx="246.2" cy="1019.4" r="2.3" stroke-width="1.3"/>
<circle cx="246.2" cy="1029.0" r="2.3" stroke-width="1.3"/>
<circle cx="246.2" cy="1038.6" r="2.3" stroke-width="1.3"/>
<circle cx="246.2" cy="1048.2" r="2.3" stroke-width="1.3"/>
<circle cx="246.2" cy="1057.8" r="2.3" stroke-width="1.3"/>
<circle cx="246.2" cy="1067.4" r="2.3" stroke-width="1.3"/>
<circle cx="237.5" cy="604.7" r="2.3" stroke-width="1.3"/>
<circle cx="246.3" cy="611.3" r="2.3" stroke-width="1.3"/>
<circle cx="252.7" cy="620.0" r="2.3" stroke-width="1.3"/>
<circle cx="257.0" cy="629.3" r="2.3" stroke-width="1.3"/>
<circle cx="260.7" cy="641.3" r="2.3" stroke-width="1.3"/>
<circle cx="261.7" cy="652.7" r="2.3" stroke-width="1.3"/>
<circle cx="262.0" cy="664.0" r="2.3" stroke-width="1.3"/>
<circle cx="262.3" cy="676.0" r="2.3" stroke-width="1.3"/>
<circle cx="262.4" cy="686.8" r="2.3" stroke-width="1.3"/>
<circle cx="262.4" cy="696.4" r="2.3" stroke-width="1.3"/>
<circle cx="262.4" cy="706.0" r="2.3" stroke-width="1.3"/>
<circle cx="262.4" cy="715.6" r="2.3" stroke-width="1.3"/>
<circle cx="262.4" cy="725.2" r="2.3" stroke-width="1.3"/>
<circle cx="262.4" cy="734.8" r="2.3" stroke-width="1.3"/>
<circle cx="262.4" cy="744.4" r="2.3" stroke-width="1.3"/>
<circle cx="262.4" cy="754.0" r="2.3" stroke-width="1.3"/>
<circle cx="262.4" cy="763.6" r="2.3" stroke-width="1.3"/>
<circle cx="262.4" cy="773.2" r="2.3" stroke-width="1.3"/>
<circle cx="262.4" cy="782.8" r="2.3" stroke-width="1.3"/>
<circle cx="262.4" cy="792.4" r="2.3" stroke-width="1.3"/>
<circle cx="262.4" cy="802.0" r="2.3" stroke-width="1.3"/>
<circle cx="262.4" cy="811.6" r="2.3" stroke-width="1.3"/>
<circle cx="262.4" cy="821.2" r="2.3" stroke-width="1.3"/>
<circle cx="262.4" cy="830.8" r="2.3" stroke-width="1.3"/>
<circle cx="262.4" cy="840.4" r="2.3" stroke-width="1.3"/>
<circle cx="262.4" cy="850.0" r="2.3" stroke-width="1.3"/>
<circle cx="262.4" cy="859.6" r="2.3" stroke-width="1.3"/>
<circle cx="262.4" cy="869.2" r="2.3" stroke-width="1.3"/>
<circle cx="262.4" cy="878.8" r="2.3" stroke-width="1.3"/>
<circle cx="262.4" cy="888.4" r="2.3" stroke-width="1.3"/>
<circle cx="262.4" cy="898.0" r="2.3" stroke-width="1.3"/>
<circle cx="262.4" cy="907.6" r="2.3" stroke-width="1.3"/>
<circle cx="262.4" cy="917.2" r="2.3" stroke-width="1.3"/>
<circle cx="262.4" cy="926.8" r="2.3" stroke-width="1.3"/>
<circle cx="262.4" cy="936.4" r="2.3" stroke-width="1.3"/>
<circle cx="262.4" cy="946.0" r="2.3" stroke-width="1.3"/>
<circle cx="262.4" cy="955.6" r="2.3" stroke-width="1.3"/>
<circle cx="262.4" cy="965.2" r="2.3" stroke-width="1.3"/>
<circle cx="262.4" cy="974.8" r="2.3" stroke-width="1.3"/>
<circle cx="262.4" cy="984.4" r="2.3" stroke-width="1.3"/>
<circle cx="262.4" cy="994.0" r="2.3" stroke-width="1.3"/>
<circle cx="262.4" cy="1003.6" r="2.3" stroke-width="1.3"/>
<circle cx="262.4" cy="1013.2" r="2.3" stroke-width="1.3"/>
<circle cx="262.4" cy="1022.8" r="2.3" stroke-width="1.3"/>
<circle cx="262.4" cy="1032.4" r="2.3" stroke-width="1.3"/>
<circle cx="262.4" cy="1042.0" r="2.3" stroke-width="1.3"/>
<circle cx="262.4" cy="1051.6" r="2.3" stroke-width="1.3"/>
<circle cx="262.4" cy="1061.2" r="2.3" stroke-width="1.3"/>
<circle cx="941.6" cy="280.8" r="2.3" stroke-width="1.3"/>
<circle cx="934.3" cy="287.4" r="2.3" stroke-width="1.3"/>
<circle cx="928.4" cy="294.7" r="2.3" stroke-width="1.3"/>
<circle cx="923.3" cy="304.3" r="2.3" stroke-width="1.3"/>
<circle cx="920.0" cy="314.5" r="2.3" stroke-width="1.3"/>
<circle cx="918.5" cy="324.8" r="2.3" stroke-width="1.3"/>
<circle cx="918.1" cy="334.3" r="2.3" stroke-width="1.3"/>
<circle cx="918.2" cy="343.7" r="2.3" stroke-width="1.3"/>
<circle cx="918.2" cy="353.3" r="2.3" stroke-width="1.3"/>
<circle cx="918.2" cy="362.9" r="2.3" stroke-width="1.3"/>
<circle cx="918.2" cy="372.5" r="2.3" stroke-width="1.3"/>
<circle cx="918.2" cy="382.1" r="2.3" stroke-width="1.3"/>
<circle cx="918.2" cy="391.7" r="2.3" stroke-width="1.3"/>
<circle cx="918.2" cy="401.3" r="2.3" stroke-width="1.3"/>
<circle cx="918.2" cy="410.9" r="2.3" stroke-width="1.3"/>
<circle cx="918.2" cy="420.5" r="2.3" stroke-width="1.3"/>
<circle cx="918.2" cy="430.1" r="2.3" stroke-width="1.3"/>
<circle cx="918.2" cy="439.7" r="2.3" stroke-width="1.3"/>
<circle cx="918.2" cy="449.3" r="2.3" stroke-width="1.3"/>
<circle cx="918.2" cy="458.9" r="2.3" stroke-width="1.3"/>
<circle cx="918.2" cy="468.5" r="2.3" stroke-width="1.3"/>
<circle cx="918.2" cy="478.1" r="2.3" stroke-width="1.3"/>
<circle cx="918.2" cy="487.7" r="2.3" stroke-width="1.3"/>
<circle cx="918.2" cy="497.3" r="2.3" stroke-width="1.3"/>
<circle cx="918.2" cy="506.9" r="2.3" stroke-width="1.3"/>
<circle cx="918.2" cy="516.5" r="2.3" stroke-width="1.3"/>
<circle cx="918.2" cy="526.1" r="2.3" stroke-width="1.3"/>
<circle cx="918.2" cy="535.7" r="2.3" stroke-width="1.3"/>
<circle cx="918.2" cy="545.3" r="2.3" stroke-width="1.3"/>
<circle cx="918.2" cy="554.9" r="2.3" stroke-width="1.3"/>
<circle cx="918.2" cy="564.5" r="2.3" stroke-width="1.3"/>
<circle cx="918.2" cy="574.1" r="2.3" stroke-width="1.3"/>
<circle cx="918.2" cy="583.7" r="2.3" stroke-width="1.3"/>
<circle cx="918.2" cy="593.3" r="2.3" stroke-width="1.3"/>
<circle cx="918.2" cy="602.9" r="2.3" stroke-width="1.3"/>
<circle cx="918.2" cy="612.5" r="2.3" stroke-width="1.3"/>
<circle cx="918.2" cy="622.1" r="2.3" stroke-width="1.3"/>
<circle cx="918.2" cy="631.7" r="2.3" stroke-width="1.3"/>
<circle cx="918.2" cy="641.3" r="2.3" stroke-width="1.3"/>
<circle cx="918.2" cy="650.9" r="2.3" stroke-width="1.3"/>
<circle cx="918.2" cy="660.5" r="2.3" stroke-width="1.3"/>
<circle cx="950.0" cy="280.8" r="2.3" stroke-width="1.3"/>
<circle cx="955.5" cy="286.7" r="2.3" stroke-width="1.3"/>
<circle cx="952.6" cy="295.5" r="2.3" stroke-width="1.3"/>
<circle cx="945.3" cy="303.5" r="2.3" stroke-width="1.3"/>
<circle cx="940.1" cy="313.8" r="2.3" stroke-width="1.3"/>
<circle cx="936.5" cy="324.8" r="2.3" stroke-width="1.3"/>
<circle cx="934.6" cy="335.0" r="2.3" stroke-width="1.3"/>
<circle cx="933.2" cy="344.7" r="2.3" stroke-width="1.3"/>
<circle cx="933.2" cy="354.4" r="2.3" stroke-width="1.3"/>
<circle cx="933.2" cy="364.2" r="2.3" stroke-width="1.3"/>
<circle cx="933.2" cy="373.9" r="2.3" stroke-width="1.3"/>
<circle cx="933.2" cy="383.7" r="2.3" stroke-width="1.3"/>
<circle cx="933.2" cy="393.4" r="2.3" stroke-width="1.3"/>
<circle cx="933.2" cy="403.2" r="2.3" stroke-width="1.3"/>
<circle cx="933.2" cy="412.9" r="2.3" stroke-width="1.3"/>
<circle cx="933.2" cy="422.7" r="2.3" stroke-width="1.3"/>
<circle cx="933.2" cy="432.4" r="2.3" stroke-width="1.3"/>
<circle cx="933.2" cy="442.2" r="2.3" stroke-width="1.3"/>
<circle cx="933.2" cy="451.9" r="2.3" stroke-width="1.3"/>
<circle cx="933.2" cy="461.7" r="2.3" stroke-width="1.3"/>
<circle cx="933.2" cy="471.4" r="2.3" stroke-width="1.3"/>
<circle cx="933.2" cy="481.2" r="2.3" stroke-width="1.3"/>
<circle cx="933.2" cy="490.9" r="2.3" stroke-width="1.3"/>
<circle cx="933.2" cy="500.7" r="2.3" stroke-width="1.3"/>
<circle cx="933.2" cy="510.4" r="2.3" stroke-width="1.3"/>
<circle cx="933.2" cy="520.2" r="2.3" stroke-width="1.3"/>
<circle cx="933.2" cy="530.0" r="2.3" stroke-width="1.3"/>
<circle cx="933.2" cy="539.7" r="2.3" stroke-width="1.3"/>
<circle cx="933.2" cy="549.5" r="2.3" stroke-width="1.3"/>
<circle cx="933.2" cy="559.2" r="2.3" stroke-width="1.3"/>
<circle cx="933.2" cy="569.0" r="2.3" stroke-width="1.3"/>
<circle cx="933.2" cy="578.7" r="2.3" stroke-width="1.3"/>
<circle cx="933.2" cy="588.5" r="2.3" stroke-width="1.3"/>
<circle cx="933.2" cy="598.2" r="2.3" stroke-width="1.3"/>
<circle cx="933.2" cy="608.0" r="2.3" stroke-width="1.3"/>
<circle cx="933.2" cy="617.7" r="2.3" stroke-width="1.3"/>
<circle cx="933.2" cy="627.5" r="2.3" stroke-width="1.3"/>
<circle cx="933.2" cy="637.2" r="2.3" stroke-width="1.3"/>
<circle cx="933.2" cy="647.0" r="2.3" stroke-width="1.3"/>
<circle cx="933.2" cy="656.7" r="2.3" stroke-width="1.3"/>
<circle cx="933.2" cy="666.5" r="2.3" stroke-width="1.3"/>
<circle cx="933.2" cy="676.2" r="2.3" stroke-width="1.3"/>
<path d="M282.0,808.0 L792.0,572.0" stroke-width="1.8" />
<path d="M808.0,550.7 L812.8,621.6" stroke-width="1.8" />
<path d="M808.3,624.2 L1130.7,772.4" stroke-width="1.8" />
<path d="M1147.3,780.1 L1421.6,906.2" stroke-width="1.8" />
<path d="M802.7,628.3 L1106.7,770.6" stroke-width="1.8" />
<path d="M1147.3,789.7 L1409.0,912.2" stroke-width="1.8" />
<path d="M808.3,624.2 L801.7,627.0 L801.7,708.3 L823.3,718.0" stroke-width="1.8" />
<ellipse cx="824.8" cy="664.5" rx="4.4" ry="5.5" transform="rotate(-25 824.8 664.5)" stroke-width="2.6" fill="none"/>
<ellipse cx="824.6" cy="664.5" rx="1.4" ry="2.6" transform="rotate(-25 824.6 664.5)" stroke-width="1.3" fill="none"/>
<ellipse cx="824.8" cy="692.5" rx="4.4" ry="5.5" transform="rotate(-25 824.8 692.5)" stroke-width="2.6" fill="none"/>
<ellipse cx="824.6" cy="692.5" rx="1.4" ry="2.6" transform="rotate(-25 824.6 692.5)" stroke-width="1.3" fill="none"/>
<path d="M808.0,711.3 L808.0,730.0 L816.0,733.3" stroke-width="1.6" />
<path d="M823.0,713.5 L829.0,711.5 L846.0,719.5" stroke-width="1.6" />
<path d="M823.0,713.5 L823.0,722.0 L830.0,726.5" stroke-width="1.6" />
<path d="M900,760 L900,772 Q908,775 912.7,766.7" stroke-width="1.6" />
<path d="M865.3,728.0 L1336.3,946.1" stroke-width="1.8" />
<path d="M861.3,731.3 L1328.7,949.6" stroke-width="1.8" />
<path d="M850.7,735.3 L1316.7,955.2" stroke-width="1.8" />
<path d="M836.7,742.0 L900.0,772.0" stroke-width="1.8" />
<path d="M806.0,1193.8 L1421.6,906.2 L1448.6,918.8" stroke-width="1.8" />
<path d="M820.4,1211.2 L1448.6,918.8" stroke-width="1.8" />
<path d="M1449.2,918.8 L1449.2,999.5" stroke-width="1.8" />
<path d="M820.4,1290.4 L1449.2,999.5" stroke-width="1.8" />
<path d="M1439.6,1004 L1439.6,1022 L1422.8,1029.2 C1421,1024 1417,1020.5 1407.8,1018.6" stroke-width="1.8" />
<path d="M279.5,949.0 L806.0,1193.8" stroke-width="1.8" />
<path d="M274.0,956.0 L820.4,1211.2" stroke-width="1.8" />
<path d="M279.5,949.0 L274.0,956.0" stroke-width="1.8" />
<path d="M274,956 Q270,996 274,1036 L279.5,1040" stroke-width="1.8" />
<path d="M279.5,1040.0 L788.0,1276.0" stroke-width="1.8" />
<path d="M794.6,1199.2 L794.6,1278.4 L820.4,1290.4" stroke-width="1.8" />
<path d="M820.4,1211.2 L820.4,1309.6" stroke-width="1.8" />
<path d="M796.0,1199.6 L806.0,1193.8" stroke-width="1.6" />
<path d="M788.0,1276.0 C788.6,1276.5 790.1,1277.0 791.6,1279.0 C793.1,1281.0 795.5,1285.0 797.0,1288.0 C798.5,1291.0 799.5,1294.8 800.5,1297.0 C801.5,1299.2 801.8,1300.2 803.0,1301.5 C804.2,1302.8 805.1,1303.2 808.0,1304.5 C810.9,1305.8 818.3,1308.8 820.4,1309.6" stroke-width="1.8" />
<path d="M820.4,1309.6 C822.2,1308.8 828.3,1306.3 831.0,1305.0 C833.7,1303.7 835.1,1303.1 836.5,1301.5 C837.9,1299.9 838.5,1297.6 839.6,1295.2 C840.7,1292.8 841.8,1289.4 843.0,1287.0 C844.2,1284.6 845.4,1282.7 847.0,1281.0 C848.6,1279.3 851.8,1277.7 852.8,1277.0" stroke-width="1.8" />
<path d="M318.8,965.3 L852.0,716.3 L858.0,713.0 L865.3,716.5 L865.3,728.9 L338.4,973.9 Z" stroke-width="0" fill="#fff" stroke="none"/>
<path d="M318.8,965.3 L852.0,716.3" stroke-width="1.8" />
<path d="M331.6,971.8 L863.3,722.9" stroke-width="1.8" />
<path d="M338.4,973.9 L865.3,728.9" stroke-width="1.8" />
<path d="M852.0,716.3 L858.0,713.0 L865.3,716.5 L865.3,728.9" stroke-width="1.6" />
<path d="M863.3,723.1 L865.3,722.0" stroke-width="1.4" />
<circle cx="855.5" cy="720.8" r="1.5" fill="#111" stroke="none"/>
<path d="M524.8,1061.6 L1058.7,813.3 L1064.0,810.5 L1071.0,814.0 L1071.0,828.0 L543.2,1070.8 Z" stroke-width="0" fill="#fff" stroke="none"/>
<path d="M524.8,1061.6 L1058.7,813.3" stroke-width="1.8" />
<path d="M537.2,1068.0 L1069.3,820.7" stroke-width="1.8" />
<path d="M543.2,1070.8 L1071.0,828.0" stroke-width="1.8" />
<path d="M1058.7,813.3 L1064.0,810.5 L1071.0,814.0 L1071.0,828.0" stroke-width="1.6" />
<circle cx="1061.0" cy="817.3" r="1.5" fill="#111" stroke="none"/>
<path d="M606.8,1100.0 L1134.7,854.6 L1140.0,851.5 L1154.7,858.5 L1154.7,866.2 L626.8,1108.8 Z" stroke-width="0" fill="#fff" stroke="none"/>
<path d="M606.8,1100.0 L1134.7,854.7" stroke-width="1.8" />
<path d="M620.4,1106.4 L1146.0,860.5" stroke-width="1.8" />
<path d="M626.8,1108.8 L1154.7,862.5" stroke-width="1.8" />
<path d="M1134.7,854.6 L1140.0,851.5 L1154.7,858.5 L1154.7,866.2" stroke-width="1.6" />
<path d="M1146.0,860.5 L1154.7,856.5" stroke-width="1.4" />
<path d="M469.0,908.0 L469.0,934.0 L478.5,938.0 L488.0,934.0" stroke-width="1.7" />
<path d="M488.0,904.0 L488.0,934.0" stroke-width="1.7" />
<path d="M478.5,908.0 L478.5,938.0" stroke-width="1.7" />
<circle cx="478.0" cy="897.0" r="1.6" fill="#111" stroke="none"/>
<path d="M685.0,811.0 L685.0,833.0 L692.5,837.0 L700.0,833.0" stroke-width="1.7" />
<path d="M700.0,807.0 L700.0,833.0" stroke-width="1.7" />
<path d="M692.5,811.0 L692.5,837.0" stroke-width="1.7" />
<circle cx="694.0" cy="797.0" r="1.6" fill="#111" stroke="none"/>
<path d="M674.0,1005.0 L674.0,1029.0 L683.8,1033.0 L693.5,1029.0" stroke-width="1.7" />
<path d="M693.5,1001.0 L693.5,1029.0" stroke-width="1.7" />
<path d="M683.8,1005.0 L683.8,1033.0" stroke-width="1.7" />
<circle cx="684.3" cy="992.7" r="1.6" fill="#111" stroke="none"/>
<path d="M891.0,903.0 L891.0,929.0 L900.0,933.0 L909.0,929.0" stroke-width="1.7" />
<path d="M909.0,899.0 L909.0,929.0" stroke-width="1.7" />
<path d="M900.0,903.0 L900.0,933.0" stroke-width="1.7" />
<circle cx="900.0" cy="892.0" r="1.6" fill="#111" stroke="none"/>
<path d="M758.0,1043.0 L758.0,1067.0 L766.5,1071.0 L775.0,1067.0" stroke-width="1.7" />
<path d="M775.0,1039.0 L775.0,1067.0" stroke-width="1.7" />
<path d="M766.5,1043.0 L766.5,1071.0" stroke-width="1.7" />
<circle cx="767.2" cy="1031.7" r="1.6" fill="#111" stroke="none"/>
<path d="M975.0,943.0 L975.0,967.0 L983.5,971.0 L992.0,967.0" stroke-width="1.7" />
<path d="M992.0,939.0 L992.0,967.0" stroke-width="1.7" />
<path d="M983.5,943.0 L983.5,971.0" stroke-width="1.7" />
<circle cx="982.7" cy="930.7" r="1.6" fill="#111" stroke="none"/>
</g>
<g fill="none" stroke="#111" stroke-linecap="butt" stroke-linejoin="round">
<line x1="125.0" y1="168.0" x2="424.0" y2="168.0" stroke-width="2.2" />
<line x1="524.0" y1="168.0" x2="850.0" y2="168.0" stroke-width="2.2" />
<polygon points="119.5,168.0 135.5,160.0 135.5,176.0" fill="#1a1a1a" stroke="none"/>
<polygon points="857.0,168.0 841.0,160.0 841.0,176.0" fill="#1a1a1a" stroke="none"/>
<line x1="116.5" y1="147.2" x2="116.5" y2="553" stroke-width="2.3" stroke-dasharray="5.5,2.5"/>
<line x1="858" y1="139" x2="858" y2="216" stroke-width="2.3" stroke-dasharray="5.5,2.5"/>
<line x1="85.0" y1="555.0" x2="85.0" y2="740.0" stroke-width="2.2" />
<line x1="85.0" y1="783.0" x2="85.0" y2="1025.0" stroke-width="2.2" />
<polygon points="85.0,547.0 77.5,562.0 92.5,562.0" fill="#1a1a1a" stroke="none"/>
<polygon points="85.0,1037.0 77.5,1022.0 92.5,1022.0" fill="#1a1a1a" stroke="none"/>
<line x1="250.0" y1="1372.0" x2="460.0" y2="1372.0" stroke-width="2.2" />
<line x1="577.0" y1="1372.0" x2="795.0" y2="1372.0" stroke-width="2.2" />
<polygon points="245.3,1372.0 261.3,1364.0 261.3,1380.0" fill="#1a1a1a" stroke="none"/>
<polygon points="800.3,1372.0 784.3,1364.0 784.3,1380.0" fill="#1a1a1a" stroke="none"/>
<line x1="163.0" y1="1442.0" x2="464.0" y2="1442.0" stroke-width="2.2" />
<line x1="580.0" y1="1442.0" x2="812.0" y2="1442.0" stroke-width="2.2" />
<polygon points="158.7,1442.0 174.7,1434.0 174.7,1450.0" fill="#1a1a1a" stroke="none"/>
<polygon points="817.9,1442.0 801.9,1434.0 801.9,1450.0" fill="#1a1a1a" stroke="none"/>
<line x1="846.0" y1="1371.0" x2="1063.0" y2="1371.0" stroke-width="2.2" />
<line x1="1180.0" y1="1371.0" x2="1414.0" y2="1371.0" stroke-width="2.2" />
<polygon points="841.3,1371.0 857.3,1363.0 857.3,1379.0" fill="#1a1a1a" stroke="none"/>
<polygon points="1419.5,1371.0 1403.5,1363.0 1403.5,1379.0" fill="#1a1a1a" stroke="none"/>
<line x1="828.0" y1="1442.0" x2="1065.0" y2="1442.0" stroke-width="2.2" />
<line x1="1181.5" y1="1442.0" x2="1433.0" y2="1442.0" stroke-width="2.2" />
<polygon points="823.7,1442.0 839.7,1434.0 839.7,1450.0" fill="#1a1a1a" stroke="none"/>
<polygon points="1438.5,1442.0 1422.5,1434.0 1422.5,1450.0" fill="#1a1a1a" stroke="none"/>
<line x1="154.7" y1="1034" x2="154.7" y2="1463" stroke-width="2.3" stroke-dasharray="5.5,2.5"/>
<line x1="242.7" y1="1076" x2="242.7" y2="1390" stroke-width="2.3" stroke-dasharray="5.5,2.5"/>
<line x1="803" y1="1303" x2="803" y2="1389" stroke-width="2.3" stroke-dasharray="5.5,2.5"/>
<line x1="821.2" y1="1310" x2="821.2" y2="1468" stroke-width="2.3" stroke-dasharray="5.5,2.5"/>
<line x1="839.3" y1="1296" x2="839.3" y2="1387" stroke-width="2.3" stroke-dasharray="5.5,2.5"/>
<line x1="1422.5" y1="1029" x2="1422.5" y2="1388" stroke-width="2.3" stroke-dasharray="5.5,2.5"/>
<line x1="1440" y1="1022" x2="1440" y2="1458" stroke-width="2.3" stroke-dasharray="5.5,2.5"/>
<line x1="790.6" y1="585.0" x2="790.6" y2="735.0" stroke-width="2.2" />
<polygon points="790.6,577.5 783.6,590.5 797.6,590.5" fill="#1a1a1a" stroke="none"/>
<polygon points="790.6,744.0 783.6,731.0 797.6,731.0" fill="#1a1a1a" stroke="none"/>
<polygon points="792.5,566.4 807.2,564.8 799.5,577.6" fill="#1a1a1a" stroke="none"/>
<line x1="1061.3" y1="760.0" x2="1061.3" y2="803.0" stroke-width="2.2" />
<polygon points="1061.3,751.3 1054.0,765.3 1068.6,765.3" fill="#1a1a1a" stroke="none"/>
<polygon points="1061.3,812.0 1054.0,799.0 1068.6,799.0" fill="#1a1a1a" stroke="none"/>
<line x1="801.0" y1="1045.0" x2="801.0" y2="1059.0" stroke-width="2.2" />
<polygon points="801.0,1032.8 793.4,1047.2 808.6,1047.2" fill="#1a1a1a" stroke="none"/>
<polygon points="801.0,1071.3 793.4,1056.9 808.6,1056.9" fill="#1a1a1a" stroke="none"/>
<line x1="879.8" y1="1280.0" x2="879.8" y2="1297.0" stroke-width="2.2" />
<polygon points="879.8,1270.0 872.3,1284.0 887.3,1284.0" fill="#1a1a1a" stroke="none"/>
<polygon points="879.8,1307.2 872.3,1293.2 887.3,1293.2" fill="#1a1a1a" stroke="none"/>
<line x1="1297.0" y1="712.0" x2="1136.0" y2="862.0" stroke-width="2.6" />
<polygon points="1128.0,869.5 1133.0,853.5 1144.0,865.0" fill="#1a1a1a" stroke="none"/>
<polygon points="281.5,809.0 287.0,796.5 297.5,806.5" fill="#1a1a1a" stroke="none"/>
</g>
<g font-family="Liberation Sans, sans-serif" font-weight="bold" fill="#111">
<text x="747" y="55.8" font-size="31.5" text-anchor="middle" transform="translate(747 0) scale(0.982 1) translate(-747 0)">Inner Size : 72.50"W X 86.00"D</text>
<text x="475.5" y="176" font-size="27" text-anchor="middle">92.25"</text>
<text x="89.5" y="772" font-size="27" text-anchor="middle">66.25"</text>
<text x="743.5" y="678.3" font-size="27" text-anchor="middle">18.00"</text>
<text x="398.5" y="804.2" font-size="27" text-anchor="middle">76.25"</text>
<text x="1329" y="703" font-size="27" text-anchor="middle">72.50"</text>
<text x="1107" y="794" font-size="27" text-anchor="middle">6.00"</text>
<text x="812" y="1057.3" font-size="27" text-anchor="start">5.50"</text>
<text x="892" y="1297" font-size="27" text-anchor="start">2.75"</text>
<text x="520" y="1380.5" font-size="27" text-anchor="middle">75.75"</text>
<text x="520" y="1451" font-size="27" text-anchor="middle">89.75"</text>
<text x="1122.5" y="1380" font-size="27" text-anchor="middle">70.25"</text>
<text x="1122.5" y="1451" font-size="27" text-anchor="middle">75.00"</text>
</g>
</svg>
</body></html>
